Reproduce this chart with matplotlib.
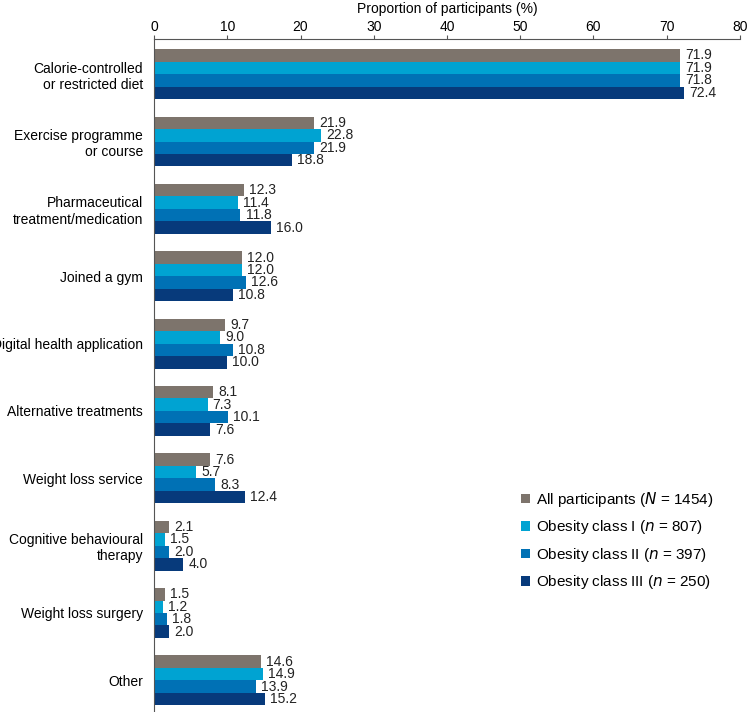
import numpy as np
import matplotlib.pyplot as plt

plt.rcParams['font.family'] = ['Liberation Sans', 'DejaVu Sans']

categories = ["Calorie-controlled\nor restricted diet", "Exercise programme\nor course",
              "Pharmaceutical\ntreatment/medication", "Joined a gym",
              "Digital health application", "Alternative treatments",
              "Weight loss service", "Cognitive behavioural\ntherapy",
              "Weight loss surgery", "Other"]
all_part = [71.9, 21.9, 12.3, 12.0, 9.7, 8.1, 7.6, 2.1, 1.5, 14.6]
class1 = [71.9, 22.8, 11.4, 12.0, 9.0, 7.3, 5.7, 1.5, 1.2, 14.9]
class2 = [71.8, 21.9, 11.8, 12.6, 10.8, 10.1, 8.3, 2.0, 1.8, 13.9]
class3 = [72.4, 18.8, 16.0, 10.8, 10.0, 7.6, 12.4, 4.0, 2.0, 15.2]
series_labels = ["All participants ($\\it{N}$ = 1454)", "Obesity class I ($\\it{n}$ = 807)",
                 "Obesity class II ($\\it{n}$ = 397)", "Obesity class III ($\\it{n}$ = 250)"]
colors = ['#7d746c', '#00a3d2', '#0071b5', '#073a7b']

fig = plt.figure(figsize=(7.48, 7.12), dpi=100)
ax = fig.add_axes([0.206, 0.0, 0.783, 0.945])

h = 0.185
y = np.arange(len(categories))
series = [all_part, class1, class2, class3]
for i, vals in enumerate(series):
    yy = y + (i - 1.5) * h
    ax.barh(yy, vals, height=h, color=colors[i], label=series_labels[i])
    for yi, v in zip(yy, vals):
        ax.text(v + 0.7, yi, f"{v:.1f}", va='center', ha='left', fontsize=10, color='#222222')

ax.set_xlim(0, 80)
ax.set_ylim(9.47, -0.52)
ax.set_yticks(y)
ax.set_yticklabels(categories, fontsize=10)
ax.tick_params(axis='y', length=0, pad=8)
ax.xaxis.tick_top()
ax.xaxis.set_label_position('top')
ax.set_xticks(np.arange(0, 81, 10))
ax.tick_params(axis='x', labelsize=10, length=3, width=0.8, color='#555555', pad=1)
ax.set_xlabel("Proportion of participants (%)", fontsize=10, labelpad=4.5)
for s in ['right', 'bottom']:
    ax.spines[s].set_visible(False)
for s in ['left', 'top']:
    ax.spines[s].set_color('#555555')
    ax.spines[s].set_linewidth(0.8)

ax.legend(loc='lower left', bbox_to_anchor=(0.613, 0.168), frameon=False, fontsize=11,
          borderpad=0, handlelength=0.6, handleheight=0.6, handletextpad=0.4,
          labelspacing=0.62)

fig.savefig('out.png', dpi=100)
